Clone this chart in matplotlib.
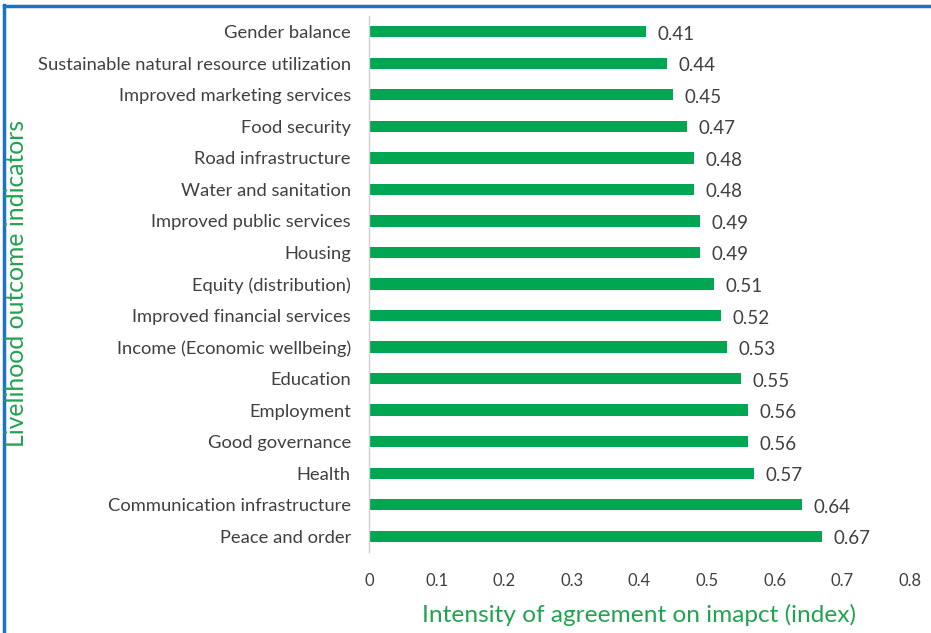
import matplotlib.pyplot as plt
from matplotlib.lines import Line2D

indicators = [
    "Gender balance",
    "Sustainable natural resource utilization",
    "Improved marketing services",
    "Food security",
    "Road infrastructure",
    "Water and sanitation",
    "Improved public services",
    "Housing",
    "Equity (distribution)",
    "Improved financial services",
    "Income (Economic wellbeing)",
    "Education",
    "Employment",
    "Good governance",
    "Health",
    "Communication infrastructure",
    "Peace and order",
]
index_values = [0.41, 0.44, 0.45, 0.47, 0.48, 0.48, 0.49, 0.49, 0.51,
                0.52, 0.53, 0.55, 0.56, 0.56, 0.57, 0.64, 0.67]
x_ticks = [0, 0.1, 0.2, 0.3, 0.4, 0.5, 0.6, 0.7, 0.8]

plt.rcParams['font.family'] = ['Lato', 'DejaVu Sans']

W, H = 931, 633
fig = plt.figure(figsize=(W / 100, H / 100), dpi=100)
fig.patch.set_facecolor('white')

# axes box in pixel coordinates
left, right, top, bottom = 369, 910, 16, 552
ax = fig.add_axes([left / W, 1 - bottom / H, (right - left) / W, (bottom - top) / H])

bar_green = '#00a651'
text_grey = '#404040'
title_green = '#22a34f'

ypos = list(range(len(indicators)))
ax.barh(ypos, index_values, height=0.36, color=bar_green)
ax.set_ylim(len(indicators) - 0.5, -0.5)
ax.set_xlim(0, 0.8)

for y, v in zip(ypos, index_values):
    ax.text(v + 0.017, y + 0.08, f"{v:.2f}", va='center', ha='left',
            fontsize=13.5, color=text_grey)

ax.set_yticks(ypos)
ax.set_yticklabels(indicators, fontsize=13.2, color=text_grey)
ax.set_xticks(x_ticks)
ax.set_xticklabels([f"{t:g}" for t in x_ticks], fontsize=12, color=text_grey)
ax.tick_params(axis='both', length=0)
ax.tick_params(axis='y', pad=13)
ax.tick_params(axis='x', pad=15)

for s in ['top', 'right', 'bottom']:
    ax.spines[s].set_visible(False)
ax.spines['left'].set_color('#d0d0d0')
ax.spines['left'].set_linewidth(1)

ax.set_xlabel("Intensity of agreement on imapct (index)", fontsize=17.6,
              color=title_green, labelpad=11)
fig.text(17 / W, 1 - 283 / H, "Livelihood outcome indicators", rotation=90,
         va='center', ha='center', fontsize=17.8, color=title_green)

# blue frame along the left and top edges
frame_blue = '#1a73c6'
fig.add_artist(Line2D([4 / W, 4 / W], [0, 1 - 5 / H], transform=fig.transFigure,
                      color=frame_blue, linewidth=2.5))
fig.add_artist(Line2D([4 / W, 1], [1 - 6 / H, 1 - 6 / H], transform=fig.transFigure,
                      color=frame_blue, linewidth=2.5))

fig.savefig('out.png', dpi=100)
